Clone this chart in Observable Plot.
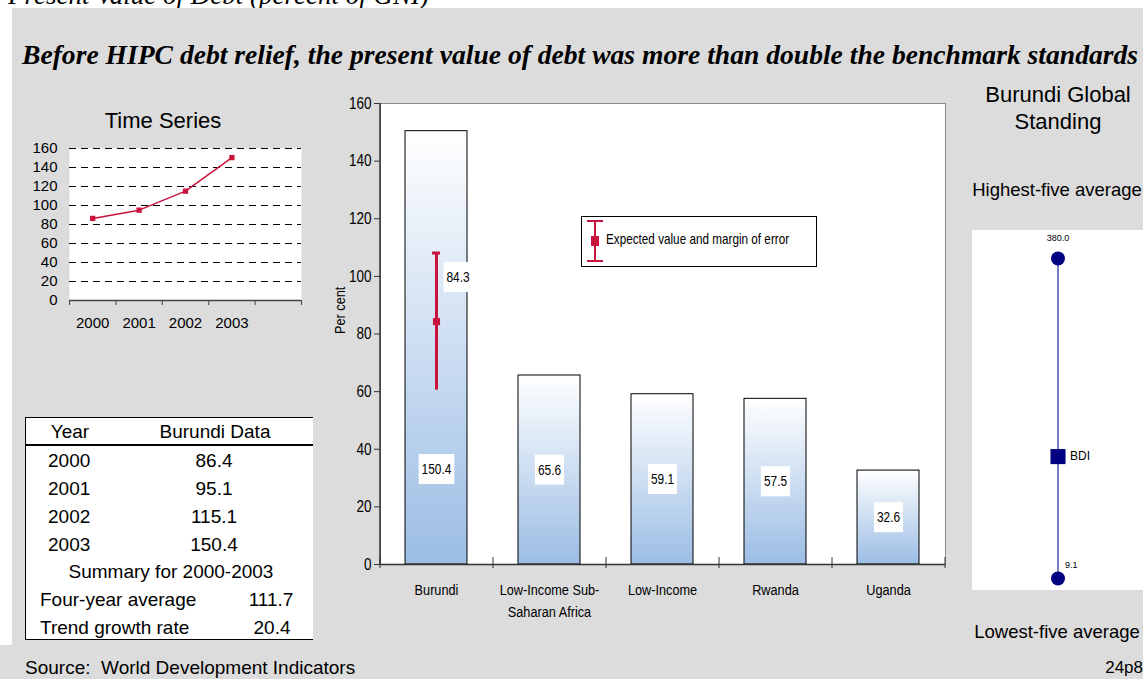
<!DOCTYPE html>
<html>
<head>
<meta charset="utf-8">
<script src="https://cdn.jsdelivr.net/npm/d3@7"></script>
<script src="https://cdn.jsdelivr.net/npm/@observablehq/plot@0.6"></script>
<style>
  body { margin: 0; width: 1143px; height: 679px; position: relative; overflow: hidden; background: #fff;
         font-family: "Liberation Sans", Arial, sans-serif; color: #000; }
  .abs { position: absolute; }
  .lbl { position: absolute; white-space: pre; }
  svg { overflow: visible; }
</style>
</head>
<body>
<script>
// ---- data ----
const years = [2000, 2001, 2002, 2003];
const debtSeries = [86.4, 95.1, 115.1, 150.4];
const fourYearAverage = 111.7;
const trendGrowthRate = 20.4;

const categories = ["Burundi", "Low-Income Sub-Saharan Africa", "Low-Income", "Rwanda", "Uganda"];
const debtValues = [150.4, 65.6, 59.1, 57.5, 32.6];

const expectedValue = 84.3;
const errorLow = 60.5;
const errorHigh = 108.1;

const standingHigh = 380.0;
const standingLow = 9.1;
const standingCode = "BDI";
const standingValue = debtValues[0];

const yTicksSmall = d3.range(0, 161, 20);
const yTicksMain = d3.range(0, 161, 20);

// ---- styling ----
const SANS = '"Liberation Sans", Arial, sans-serif';
const SERIF = '"Liberation Serif", "Times New Roman", serif';
const CRIMSON = "#c8143c";
const NAVY = "#000080";
const NARROW_K = 0.82; // horizontal squeeze used for the narrow chart lettering

function box(x, y, w, h, css) {
  const d = document.createElement("div");
  d.className = "abs";
  Object.assign(d.style, { left: x + "px", top: y + "px", width: w + "px", height: h + "px" }, css || {});
  document.body.appendChild(d);
  return d;
}
function label(text, x, y, opts = {}) {
  const size = opts.size || 16;
  const lh = size * 1.2;
  const d = document.createElement("div");
  d.className = "lbl";
  d.textContent = text;
  d.style.font = `${opts.style || "normal"} ${opts.weight || "normal"} ${size}px ${opts.family || SANS}`;
  d.style.lineHeight = lh + "px";
  d.style.top = (y - lh / 2) + "px";
  const anchor = opts.anchor || "start";
  if (anchor === "middle") { d.style.left = x + "px"; d.style.transform = "translateX(-50%)"; }
  else if (anchor === "end") { d.style.right = (1143 - x) + "px"; }
  else { d.style.left = x + "px"; }
  if (opts.squeeze) {
    d.style.transform = `scaleX(${opts.squeeze})`;
    d.style.transformOrigin = "left center";
  }
  document.body.appendChild(d);
  return d;
}
function place(node, x, y) {
  node.style.position = "absolute";
  node.style.left = x + "px";
  node.style.top = y + "px";
  document.body.appendChild(node);
  return node;
}
// condense svg lettering horizontally
function narrowTexts(svg, k) {
  svg.querySelectorAll("text").forEach(t => {
    const spans = t.querySelectorAll("tspan");
    const targets = spans.length ? Array.from(spans) : [t];
    targets.forEach(el => {
      const w = el.getComputedTextLength();
      if (w > 0) {
        el.setAttribute("textLength", w * k);
        el.setAttribute("lengthAdjust", "spacingAndGlyphs");
      }
    });
  });
}
// white box behind the value labels
function addLabelBoxes(svg, strings) {
  svg.querySelectorAll("text").forEach(t => {
    if (!strings.includes(t.textContent.trim())) return;
    const bb = t.getBBox();
    const r = document.createElementNS("http://www.w3.org/2000/svg", "rect");
    r.setAttribute("x", bb.x - 3);
    r.setAttribute("y", bb.y + bb.height / 2 - 15);
    r.setAttribute("width", bb.width + 6);
    r.setAttribute("height", 30);
    r.setAttribute("fill", "white");
    if (t.getAttribute("transform")) r.setAttribute("transform", t.getAttribute("transform"));
    t.parentNode.insertBefore(r, t);
  });
}

// ---- page frame ----
label("Present Value of Debt (percent of GNI)", 8, -4.5, { size: 27, style: "italic", family: SERIF });
box(12, 8, 1131, 637, { background: "#dcdcdc" });
box(0, 645, 1143, 34, { background: "#dcdcdc" });

label("Before HIPC debt relief, the present value of debt was more than double the benchmark standards",
      22, 55, { size: 27.6, weight: "bold", style: "italic", family: SERIF });

// ---- time series ----
label("Time Series", 163, 121, { size: 22, anchor: "middle" });
const series = years.map((y, i) => ({ year: y, value: debtSeries[i] }));
const bounds = d3.range(years[0] - 0.5, years[years.length - 1] + 2, 1);
const ts = Plot.plot({
  width: 320, height: 210,
  marginLeft: 69, marginRight: 19, marginTop: 18, marginBottom: 40,
  style: { background: "transparent", fontFamily: SANS, fontSize: "15px", color: "#000" },
  x: { domain: [bounds[0], bounds[bounds.length - 1]] },
  y: { domain: [0, 160] },
  marks: [
    Plot.frame({ fill: "white", stroke: null }),
    Plot.ruleY(yTicksSmall.filter(d => d > 0), { stroke: "#000", strokeDasharray: "7,5", strokeWidth: 1 }),
    Plot.ruleY([0], { stroke: "#444", strokeWidth: 1.5 }),
    Plot.axisY({ ticks: yTicksSmall, tickSize: 0, tickPadding: 12, fontSize: 15, label: null }),
    Plot.axisX({ ticks: bounds, tickSize: 5, tickFormat: () => "", stroke: "#444", label: null }),
    Plot.axisX({ ticks: years, tickSize: 0, tickPadding: 17, tickFormat: d => String(d), fontSize: 15, label: null }),
    Plot.lineY(series, { x: "year", y: "value", stroke: CRIMSON, strokeWidth: 1.5 }),
    Plot.dot(series, { x: "year", y: "value", symbol: "square", r: 3, fill: CRIMSON })
  ]
});
place(ts, 0, 130);

// ---- data table ----
const TS = 19;
box(25, 417, 288, 223, { background: "#fff", borderTop: "1.5px solid #000", borderLeft: "1.5px solid #000",
                         borderBottom: "1.5px solid #000", boxSizing: "border-box" });
box(25, 444, 288, 1.5, { background: "#000" });
label("Year", 70, 432, { size: TS, anchor: "middle" });
label("Burundi Data", 215, 432, { size: TS, anchor: "middle" });
years.forEach((y, i) => {
  label(String(y), 48, 461 + i * 28, { size: TS });
  label(debtSeries[i].toFixed(1), 214, 461 + i * 28, { size: TS, anchor: "middle" });
});
label(`Summary for ${years[0]}-${years[years.length - 1]}`, 171, 572, { size: TS, anchor: "middle" });
label("Four-year average", 40, 600, { size: TS });
label(fourYearAverage.toFixed(1), 271, 600, { size: TS, anchor: "middle" });
label("Trend growth rate", 40, 628, { size: TS });
label(trendGrowthRate.toFixed(1), 272, 628, { size: TS, anchor: "middle" });

// ---- main bar chart ----
const bars = categories.map((c, i) => ({ category: c, value: debtValues[i] }));
const W = 640, H = 545, mL = 60, mR = 15, mT = 13, mB = 71;
const step = (W - mL - mR) / categories.length;
const main = Plot.plot({
  width: W, height: H, marginLeft: mL, marginRight: mR, marginTop: mT, marginBottom: mB,
  style: { background: "transparent", fontFamily: SANS, fontSize: "15px", color: "#000" },
  x: { domain: categories, paddingInner: 0.45, paddingOuter: 0.225 },
  y: { domain: [0, 160] },
  marks: [
    Plot.frame({ fill: "white", stroke: "#8c8c8c" }),
    Plot.barY(bars, { x: "category", y: "value", fill: "url(#barGrad)", stroke: "#000", strokeWidth: 1 }),
    // axis lines and boundary ticks
    Plot.ruleX([categories[0]], { y1: 0, y2: 160, dx: -step / 2, stroke: "#333", strokeWidth: 1.5 }),
    Plot.ruleY([0], { stroke: "#333", strokeWidth: 1.5 }),
    Plot.ruleX(categories, { y1: 0, y2: 0, dx: -step / 2, insetTop: -7, insetBottom: -4, stroke: "#333" }),
    Plot.ruleX([categories[categories.length - 1]], { y1: 0, y2: 0, dx: step / 2, insetTop: -7, insetBottom: -4, stroke: "#333" }),
    Plot.axisY({ ticks: yTicksMain, tickSize: 6, tickPadding: 3, fontSize: 16.5, stroke: "#333", label: null }),
    Plot.axisX({ tickSize: 0, tickPadding: 16, fontSize: 15.5, lineHeight: 1.36, label: null,
                 tickFormat: d => d.replace("Sub-Saharan", "Sub-\nSaharan") }),
    Plot.text(["Per cent"], { frameAnchor: "left", rotate: -90, dx: -40, fontSize: 15.5 }),
    // value labels
    Plot.text(bars, { x: "category", y: d => Math.min(d.value / 2, 33), text: d => d.value.toFixed(1), fontSize: 14.5 }),
    // expected value and margin of error
    Plot.ruleX([expectedValue], { x: () => categories[0], y1: errorLow, y2: errorHigh, stroke: CRIMSON, strokeWidth: 3 }),
    Plot.tickY([errorHigh], { x: () => categories[0], y: d => d, stroke: CRIMSON, strokeWidth: 3, insetLeft: 27, insetRight: 27 }),
    Plot.dot([expectedValue], { x: () => categories[0], y: d => d, symbol: "square", r: 4, fill: CRIMSON }),
    Plot.text([expectedValue], { x: () => categories[0], y: d => (d + errorHigh) / 2, dy: -10, dx: 10,
                                 textAnchor: "start", text: d => d.toFixed(1), fontSize: 14.5 })
  ]
});
d3.select(main).insert("defs", ":first-child").html(
  '<linearGradient id="barGrad" x1="0" y1="0" x2="0" y2="1">' +
  '<stop offset="0" stop-color="#ffffff"/><stop offset="1" stop-color="#9bbde4"/></linearGradient>');
place(main, 320, 90);
narrowTexts(main, NARROW_K);
addLabelBoxes(main, debtValues.concat([expectedValue]).map(v => v.toFixed(1)));

// legend
box(581, 216, 236, 51, { background: "#fff", border: "1px solid #000", boxSizing: "border-box" });
const legIcon = d3.create("svg").attr("width", 20).attr("height", 46);
legIcon.append("line").attr("x1", 10).attr("x2", 10).attr("y1", 3).attr("y2", 43).attr("stroke", CRIMSON).attr("stroke-width", 2);
legIcon.append("line").attr("x1", 2).attr("x2", 18).attr("y1", 3).attr("y2", 3).attr("stroke", CRIMSON).attr("stroke-width", 2);
legIcon.append("line").attr("x1", 2).attr("x2", 18).attr("y1", 43).attr("y2", 43).attr("stroke", CRIMSON).attr("stroke-width", 2);
legIcon.append("rect").attr("x", 6).attr("y", 18).attr("width", 8).attr("height", 10).attr("fill", CRIMSON);
place(legIcon.node(), 585, 218);
label("Expected value and margin of error", 606, 240, { size: 14.3, squeeze: NARROW_K });

// ---- global standing ----
label("Burundi Global", 1058, 95, { size: 22, anchor: "middle" });
label("Standing", 1058, 122, { size: 22, anchor: "middle" });
label("Highest-five average", 1057, 190, { size: 18.5, anchor: "middle" });
label("Lowest-five average", 1057, 632, { size: 18.5, anchor: "middle" });
const gs = Plot.plot({
  width: 171, height: 360, marginLeft: 0, marginRight: 0, marginTop: 28, marginBottom: 12,
  style: { background: "white", fontFamily: SANS, color: "#000" },
  x: { domain: [-1, 1], axis: null },
  y: { domain: [standingLow, standingHigh], axis: null },
  marks: [
    Plot.ruleX([0], { y1: standingLow, y2: standingHigh, stroke: "#7b7bc6", strokeWidth: 2 }),
    Plot.dot([standingLow, standingHigh], { x: () => 0, y: d => d, r: 7, fill: NAVY }),
    Plot.dot([standingValue], { x: () => 0, y: d => d, symbol: "square", r: 8.5, fill: NAVY }),
    Plot.text([standingHigh], { x: () => 0, y: d => d, text: d => d.toFixed(1), dy: -20, fontSize: 9 }),
    Plot.text([standingLow], { x: () => 0, y: d => d, text: d => d.toFixed(1), dx: 7, dy: -13, textAnchor: "start", fontSize: 9 }),
    Plot.text([standingCode], { x: () => 0, y: () => standingValue, text: d => d, dx: 12, textAnchor: "start", fontSize: 12 })
  ]
});
place(gs, 972, 230);

// ---- footer ----
label("Source:  World Development Indicators", 25, 668, { size: 19 });
label("24p8", 1143, 668, { size: 17, anchor: "end" });
</script>
</body>
</html>
